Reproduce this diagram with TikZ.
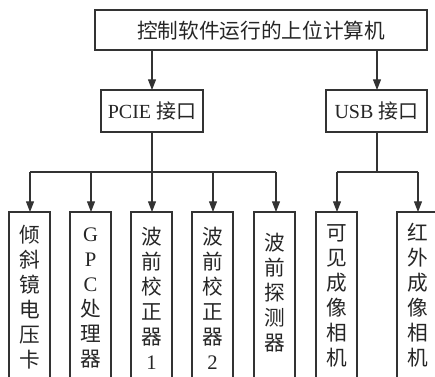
\documentclass[tikz,border=0pt]{standalone}
\usepackage{fontspec}
\setmainfont{Liberation Serif}
\newfontfamily\cjk{Noto Sans CJK SC}
\usetikzlibrary{arrows.meta}
\begin{document}
\begin{tikzpicture}[x=0.75pt,y=-0.75pt,
  ln/.style={draw=black!80,line width=0.8pt},
  arr/.style={ln,-{Triangle[length=8pt,width=6pt]}},
  boxs/.style={ln,fill=none},
  vtext/.style={anchor=north,align=center,inner sep=0pt,text=black!85,
    font=\fontsize{15.5pt}{18.75pt}\selectfont\cjk},
  htext/.style={inner sep=0pt,text=black!85}]
\useasboundingbox (0,0) rectangle (435,376);
\clip (0,0) rectangle (435,376);
% top box
\draw[boxs] (95,10) rectangle (427,50);
\node[htext,font=\fontsize{15.5pt}{18pt}\selectfont\cjk] (top) at (261,31) {控制软件运行的上位计算机};
\coordinate (t1) at (152,50);
\coordinate (t2) at (377,50);
% interface boxes
\draw[boxs] (101,90) rectangle (203,132);
\node[htext,font=\fontsize{15pt}{18pt}\selectfont] (pcie) at (152,111) {PCIE {\cjk 接口}};
\draw[boxs] (326,90) rectangle (427,132);
\node[htext,font=\fontsize{15pt}{18pt}\selectfont] (usb) at (376.5,111) {USB {\cjk 接口}};
\coordinate (p1) at (152,90);
\coordinate (u1) at (377,90);
\draw[arr] (t1) -- (p1);
\draw[arr] (t2) -- (u1);
% bus lines
\coordinate (p2) at (152,132);
\coordinate (p3) at (152,172);
\coordinate (u2) at (377,132);
\coordinate (u3) at (377,172);
\draw[ln] (p2) -- (p3);
\draw[ln] (u2) -- (u3);
\coordinate (bL) at (30,172);
\coordinate (bR) at (276,172);
\draw[ln] (bL) -- (bR);
\coordinate (cL) at (337,172);
\coordinate (cR) at (418,172);
\draw[ln] (cL) -- (cR);
% bottom boxes
\foreach \l/\c in {9/30,70/91,131/152,192/213,254/276,316/337,397/418}{
  \draw[boxs] (\l,212) -- (\l,390) -- (\l+41,390) -- (\l+41,212) -- cycle;
  \draw[arr] (\c,172) -- (\c,212);
}
\node[vtext] (b1) at (29.5,225) {倾\\斜\\镜\\电\\压\\卡};
\node[vtext] (b2) at (90.5,228) {\rmfamily G\\\rmfamily P\\\rmfamily C\\处\\理\\器};
\node[vtext] (b3) at (151.5,227) {波\\前\\校\\正\\器\\\rmfamily 1};
\node[vtext] (b4) at (212.5,227) {波\\前\\校\\正\\器\\\rmfamily 2};
\node[vtext] (b5) at (275,233) {波\\前\\探\\测\\器};
\node[vtext] (b6) at (336.5,224) {可\\见\\成\\像\\相\\机};
\node[vtext] (b7) at (417.5,223) {红\\外\\成\\像\\相\\机};
\end{tikzpicture}
\end{document}
